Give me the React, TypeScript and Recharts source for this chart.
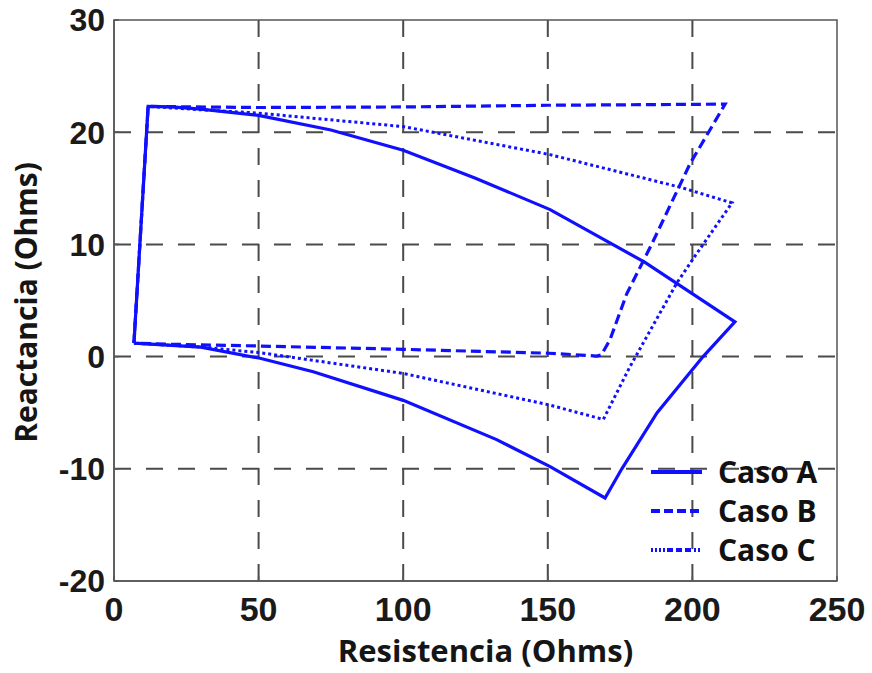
import { LineChart, Line, XAxis, YAxis, CartesianGrid, ReferenceArea, Legend } from 'recharts';

// Impedance trajectories (R, X) in Ohms, traced as closed loops
const casoA = [
    { x: 6.9, y: 1.2 }, { x: 11.8, y: 22.3 }, { x: 20, y: 22.25 }, { x: 30, y: 22.05 },
    { x: 50, y: 21.5 }, { x: 75, y: 20.2 }, { x: 100, y: 18.4 }, { x: 125, y: 15.9 },
    { x: 150.8, y: 13.1 }, { x: 183.6, y: 8.4 }, { x: 214.7, y: 3.1 }, { x: 203.7, y: 0 },
    { x: 187.8, y: -5.0 }, { x: 175.6, y: -10 }, { x: 169.8, y: -12.6 }, { x: 150.8, y: -9.8 },
    { x: 132.3, y: -7.4 }, { x: 100, y: -3.9 }, { x: 68.9, y: -1.35 }, { x: 50.5, y: -0.15 },
    { x: 30, y: 0.85 }, { x: 6.9, y: 1.2 },
];

const casoB = [
    { x: 6.9, y: 1.2 }, { x: 11.8, y: 22.3 }, { x: 50, y: 22.2 }, { x: 100, y: 22.25 },
    { x: 150, y: 22.4 }, { x: 211.3, y: 22.5 }, { x: 199.2, y: 17.2 }, { x: 185.9, y: 10 },
    { x: 177.3, y: 5.6 }, { x: 171.5, y: 1.5 }, { x: 168.5, y: 0.15 }, { x: 166.9, y: 0.05 },
    { x: 150.4, y: 0.3 }, { x: 100, y: 0.65 }, { x: 50.5, y: 0.94 }, { x: 20, y: 1.1 },
    { x: 6.9, y: 1.2 },
];

const casoC = [
    { x: 6.9, y: 1.2 }, { x: 11.8, y: 22.3 }, { x: 30, y: 22.0 }, { x: 50, y: 21.7 },
    { x: 100, y: 20.5 }, { x: 150.8, y: 18.0 }, { x: 195.7, y: 15.1 }, { x: 213.7, y: 13.7 },
    { x: 201, y: 9 }, { x: 194.7, y: 6.6 }, { x: 178.4, y: -0.9 }, { x: 169.2, y: -5.6 },
    { x: 150.4, y: -4.3 }, { x: 100, y: -1.5 }, { x: 50.5, y: 0.35 }, { x: 30, y: 0.85 },
    { x: 6.9, y: 1.2 },
];

const X_TICKS = [0, 50, 100, 150, 200, 250];
const Y_TICKS = [-20, -10, 0, 10, 20, 30];
const X_GRID = [50, 100, 150, 200];
const Y_GRID = [-10, 0, 10, 20];

const BLUE = '#1010ff';
const SERIES = [
    { name: 'Caso A', data: casoA, dash: undefined, width: 3.2, legendDash: undefined },
    { name: 'Caso B', data: casoB, dash: '10 5', width: 3.2, legendDash: '9 4' },
    { name: 'Caso C', data: casoC, dash: '3 3', width: 3, legendDash: '2 2 2 2 2 2 2 2 6 3 6 3 6 3' },
];

const TITLE_FONT = '"Open Sans", sans-serif';
const TICK_FONT = '"Liberation Sans", Arial, sans-serif';

function XTitle({ viewBox }: any) {
    const cx = viewBox.x + viewBox.width / 2 + 10;
    return (
        <text x={cx} y={viewBox.y + 81} textAnchor="middle" fill="#151515"
            style={{ fontFamily: TITLE_FONT, fontWeight: 700, fontSize: 31 }}>
            Resistencia (Ohms)
        </text>
    );
}

function YTitle({ viewBox }: any) {
    const cy = viewBox.y + viewBox.height / 2 + 2;
    const x = 37;
    return (
        <text x={x} y={cy} textAnchor="middle" fill="#151515" transform={`rotate(-90, ${x}, ${cy})`}
            style={{ fontFamily: TITLE_FONT, fontWeight: 700, fontSize: 30 }}>
            Reactancia (Ohms)
        </text>
    );
}

function renderLegend() {
    return (
        <div style={{ fontFamily: TITLE_FONT, fontWeight: 700, fontSize: 30, color: '#111' }}>
            {SERIES.map((s) => (
                <div key={s.name} style={{ display: 'flex', alignItems: 'center', height: 39 }}>
                    <svg width={53} height={10} style={{ marginRight: 15 }}>
                        <line x1={1} y1={5} x2={52} y2={5} stroke={BLUE} strokeWidth={4}
                            strokeDasharray={s.legendDash} />
                    </svg>
                    <span style={{ lineHeight: '39px' }}>{s.name}</span>
                </div>
            ))}
        </div>
    );
}

export default function App() {
    return (
        <div style={{ position: 'absolute', left: 0, top: 0, background: '#fff' }}>
            <LineChart width={872} height={673} margin={{ top: 20, right: 35, left: 0, bottom: 0 }}>
                <CartesianGrid stroke="#4a4a4a" strokeWidth={2} strokeDasharray="17 15"
                    verticalValues={X_GRID} horizontalValues={Y_GRID} />
                <XAxis type="number" dataKey="x" domain={[0, 250]} ticks={X_TICKS} height={92}
                    allowDataOverflow tickSize={-5} tickMargin={21}
                    tickLine={{ stroke: '#555', strokeWidth: 1.5 }}
                    axisLine={{ stroke: '#555', strokeWidth: 1.5 }}
                    tick={{ fill: '#1a1a1a', fontSize: 34, fontWeight: 700, fontFamily: TICK_FONT }}
                    label={<XTitle />} />
                <YAxis type="number" dataKey="y" domain={[-20, 30]} ticks={Y_TICKS} width={114}
                    allowDataOverflow tickSize={-5} tickMargin={14}
                    tickLine={{ stroke: '#555', strokeWidth: 1.5 }}
                    axisLine={{ stroke: '#555', strokeWidth: 1.5 }}
                    tick={{ fill: '#1a1a1a', fontSize: 32, fontWeight: 700, fontFamily: TICK_FONT }}
                    label={<YTitle />} />
                <ReferenceArea x1={0} x2={250} y1={-20} y2={30} fill="none" fillOpacity={0}
                    stroke="#555" strokeWidth={1.5} ifOverflow="visible" />
                {SERIES.map((s) => (
                    <Line key={s.name} data={s.data} dataKey="y" name={s.name} type="linear"
                        stroke={BLUE} strokeWidth={s.width} strokeDasharray={s.dash}
                        dot={false} activeDot={false} isAnimationActive={false} />
                ))}
                <Legend content={renderLegend} layout="horizontal" verticalAlign="middle" align="center"
                    wrapperStyle={{ left: 650, top: 452, width: 200, height: 120 }} />
            </LineChart>
        </div>
    );
}
